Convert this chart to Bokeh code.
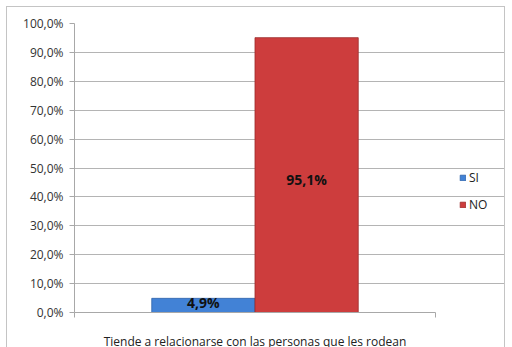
from bokeh.plotting import figure
from bokeh.models import Range1d, Legend, LegendItem, ColumnDataSource, FixedTicker
from bokeh.transform import dodge
from bokeh.embed import file_html
from bokeh.resources import INLINE
from bokeh.core.properties import value

category = ["Tiende a relacionarse con las personas que les rodean"]
series = ["SI", "NO"]
values_si = [4.9]
values_no = [95.1]
labels_si = ["4,9%"]
labels_no = ["95,1%"]
y_ticks = [0, 10, 20, 30, 40, 50, 60, 70, 80, 90, 100]
y_tick_labels = ["0,0%", "10,0%", "20,0%", "30,0%", "40,0%", "50,0%",
                 "60,0%", "70,0%", "80,0%", "90,0%", "100,0%"]

n_cat = len(category)
pos = [i + 0.5 for i in range(n_cat)]

src = ColumnDataSource(dict(pos=pos, si=values_si, no=values_no,
                            lsi=labels_si, lno=labels_no,
                            no_mid=[v / 2 for v in values_no]))

FONT = "Open Sans"

FRAME_W = 432      # frame spans to the right border; category area is 361 px
CAT_W = 361

p = figure(width=499, height=345,
           x_range=Range1d(0, n_cat * FRAME_W / CAT_W),
           y_range=Range1d(0, 100), output_backend="svg", toolbar_location=None,
           min_border_left=67, min_border_right=0, min_border_top=16,
           min_border_bottom=29)
p.margin = (6, 0, 0, 6)
p.styles = {"border": "1px solid #c4c4c4"}
p.outline_line_color = None
p.background_fill_color = "white"

r_si = p.vbar(x=dodge("pos", -0.143), top="si", width=0.286,
              source=src, fill_color="#4282d6", line_color="#2f62a8", line_width=0.8)
r_no = p.vbar(x=dodge("pos", 0.143), top="no", width=0.286,
              source=src, fill_color="#cd3d3d", line_color="#9c2b2b", line_width=0.8)

p.text(x=dodge("pos", -0.143), y="si", text="lsi", source=src,
       text_font=value(FONT), text_font_style="bold", text_font_size="14px",
       text_align="center", text_baseline="middle", y_offset=4, text_color="#111111")
p.text(x=dodge("pos", 0.143), y="no_mid", text="lno", source=src,
       text_font=value(FONT), text_font_style="bold", text_font_size="14px",
       text_align="center", text_baseline="middle", y_offset=4, text_color="#111111")

p.yaxis.ticker = FixedTicker(ticks=y_ticks)
p.yaxis.major_label_overrides = {t: l for t, l in zip(y_ticks, y_tick_labels)}
p.yaxis.major_label_text_font = FONT
p.yaxis.major_label_text_font_size = "12px"
p.yaxis.major_label_text_color = "#333333"
p.yaxis.major_tick_out = 5
p.yaxis.major_tick_in = 0
p.yaxis.minor_tick_line_color = None
p.yaxis.axis_line_color = "#a8a8a8"
p.yaxis.major_tick_line_color = "#a8a8a8"
p.yaxis.major_label_standoff = 6

p.xaxis.ticker = FixedTicker(ticks=pos, minor_ticks=[0, n_cat])
p.xaxis.major_label_overrides = {x: c for x, c in zip(pos, category)}
p.xaxis.bounds = (0, n_cat)
p.xaxis.major_label_text_font = FONT
p.xaxis.major_label_text_font_size = "12px"
p.xaxis.major_label_text_color = "#222222"
p.xaxis.major_tick_line_color = None
p.xaxis.minor_tick_line_color = "#a8a8a8"
p.xaxis.minor_tick_out = 5
p.xaxis.minor_tick_in = 0
p.xaxis.axis_line_color = "#a8a8a8"
p.xaxis.major_label_standoff = 14

p.xgrid.grid_line_color = None
p.ygrid.grid_line_color = "#b4b4b4"
p.ygrid.ticker = FixedTicker(ticks=y_ticks)
p.ygrid.bounds = (0, n_cat)

legend = Legend(items=[LegendItem(label=series[0], renderers=[r_si]),
                       LegendItem(label=series[1], renderers=[r_no])],
                location=(385, 99), orientation="vertical",
                glyph_width=7, glyph_height=7, label_height=14, spacing=10,
                padding=0, margin=0, border_line_color=None,
                background_fill_alpha=0, label_text_font=FONT,
                label_text_font_size="12px", label_text_color="#222222",
                label_standoff=3)
p.add_layout(legend, "center")

open("out.html", "w").write(file_html(p, INLINE))
